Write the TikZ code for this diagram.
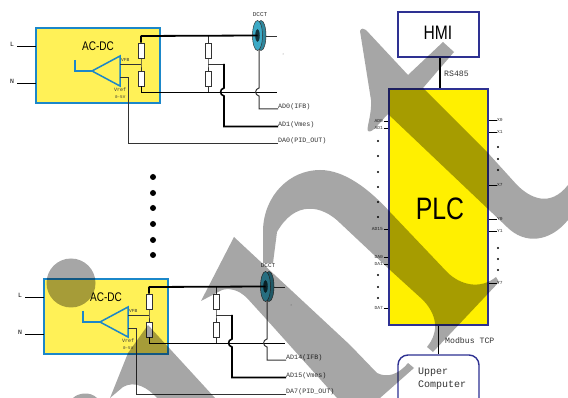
\documentclass[tikz,border=0pt]{standalone}
\usepackage{fontspec}
\setmainfont{Liberation Mono}
\newfontfamily\condf[FakeStretch=0.8]{Liberation Sans}
\usetikzlibrary{shapes.geometric}
\definecolor{acbox}{HTML}{FFF157}
\definecolor{acblue}{HTML}{1B87C9}
\definecolor{navy}{HTML}{2E3192}
\definecolor{plcy}{HTML}{FFF000}
\definecolor{over}{HTML}{A6A6A6}
\definecolor{ringc}{HTML}{3CAAC6}
\definecolor{wiregray}{HTML}{333333}
\tikzset{
  thinw/.style={draw=wiregray,line width=.8pt},
  heavyw/.style={draw=black,line width=1.6pt},
  busw/.style={draw=black,line width=1.8pt},
  res/.style={draw=wiregray,fill=white,line width=.8pt,minimum width=6pt,minimum height=15pt,inner sep=0pt},
  lab/.style={font=\fontsize{6.7}{7}\selectfont,text=wiregray,inner sep=0pt,anchor=west},
  tiny/.style={font=\fontsize{4.6}{5}\selectfont,text=wiregray,inner sep=0pt},
  pin/.style={draw=black,line width=.8pt},
  dotm/.style={circle,fill=black,inner sep=0pt,minimum size=2.2pt},
  bigdot/.style={circle,fill=black,inner sep=0pt,minimum size=6pt},
  specks/.style={circle,fill=gray,inner sep=0pt,minimum size=1pt},
  topbox/.style={draw=navy,line width=1.4pt,fill=white,inner sep=0pt},
  ringshape/.style={ellipse,draw=wiregray,line width=.5pt,minimum width=10pt,minimum height=30pt,inner sep=0pt},
}
\newcommand{\circuitblock}[6]{%
\begin{scope}[shift={(#1,#2)},name prefix=#3-]
  \node[draw=acblue,fill=acbox,line width=1.4pt,minimum width=124pt,minimum height=75pt,inner sep=0pt] (box) at (98,65.5) {};
  \node[font=\condf\fontsize{12.5}{13}\selectfont,inner sep=0pt] (title) at (98,46) {AC-DC};
  \node[font=\fontsize{6.5}{7}\selectfont,inner sep=0pt] (Lt) at (12,44) {L};
  \node[font=\fontsize{6.5}{7}\selectfont,inner sep=0pt] (Nt) at (12,81) {N};
  \coordinate (Le) at (17,46); \coordinate (Li) at (36,46);
  \coordinate (Ne) at (17,83); \coordinate (Ni) at (36,83);
  \draw[thinw,draw=black] (Le) -- (Li);
  \draw[thinw,draw=black] (Ne) -- (Ni);
  % resistors
  \node[res] (r1) at (141,50.5) {};
  \node[res] (r2) at (141,78.5) {};
  \node[res] (r3) at (208,50.5) {};
  \node[res] (r4) at (208,78.5) {};
  \coordinate (j1) at (141,64); \coordinate (j2) at (208,64);
  \coordinate (tl) at (141,36); \coordinate (tm) at (208,36);
  \coordinate (bl) at (141,92); \coordinate (bm) at (208,92); \coordinate (be) at (277,92);
  \coordinate (ringc) at (259,36); \coordinate (te) at (277,36);
  \draw[thinw] (tm) -- (r3) (r3) -- (j2) -- (r4) (r4) -- (bm);
  \draw[thinw] (r1) -- (j1) -- (r2);
  \draw[thinw,draw=black] (r2) -- (bl) -- (be);
  \draw[thinw] (ringc) -- (te);
  % comparator
  \coordinate (ca) at (92,71); \coordinate (cb) at (120,56); \coordinate (cc) at (120,86);
  \draw[draw=acblue,line width=1.5pt,line join=miter] (ca) -- (cb) -- (cc) -- cycle;
  \coordinate (o1) at (75,60); \coordinate (o2) at (75,71);
  \draw[draw=acblue,line width=2pt] (o1) -- (o2) -- (ca);
  \coordinate (vf) at (120,64); \coordinate (vr) at (120,77);
  \draw[thinw] (vf) -- (j1);
  \node[tiny,anchor=west] (vfb) at (121,60) {VFB};
  \node[tiny,anchor=west,font=\fontsize{5}{5}\selectfont] (vref) at (114,90) {Vref};
  \node[tiny,anchor=west,font=\fontsize{4.2}{5}\selectfont] (vrng) at (115,97) {0-5V};
  % output labels
  \node[lab] (l1) at (278,107) {#4};
  \node[lab] (l2) at (278,125) {#5};
  \node[lab] (l3) at (278,141) {#6};
  % wires to labels
  \coordinate (a1) at (224,64); \coordinate (a2) at (224,88); \coordinate (a3) at (224,96); \coordinate (a4) at (224,126.5);
  \draw[thinw] (j2) -- (a1);
  \draw[heavyw] (a1) -- (a2) .. controls (219.5,89) and (219.5,95) .. (a3) -- (a4) -- (l2.west |- a4);
  \coordinate (b1) at (259,50); \coordinate (b2) at (259,88); \coordinate (b3) at (259,96); \coordinate (b4) at (259,109);
  \draw[thinw,line width=1pt] (b1) -- (b2) .. controls (254.5,89) and (254.5,95) .. (b3) -- (b4) -- (l1.west |- b4);
  \coordinate (c1) at (128.5,77); \coordinate (c2) at (128.5,143);
  \draw[thinw] (vr) -- (c1) -- (c2) -- (l3.west |- c2);
  % DCCT
  \node[ringshape,fill=ringc!80!black] (ringb) at (261,35.5) {};
  \node[ringshape,fill=ringc] (ring) at (257.5,35.5) {};
  \node[fill=black!70!ringc,inner sep=0pt,minimum width=4.5pt,minimum height=13pt,ellipse] (hole) at (257.5,35.5) {};
  \draw[busw] (tl) -- (r1.north) (tl) -- (hole.center);
  \node[font=\fontsize{6}{6}\selectfont,text=wiregray,inner sep=0pt] (dcct) at (260,15) {DCCT};
\end{scope}}
\begin{document}
\begin{tikzpicture}[x=1pt,y=-1pt]
\useasboundingbox (0,0) rectangle (568,398);
\fill[white] (0,0) rectangle (568,398);
\circuitblock{0}{0}{top}{AD0(IFB)}{AD1(Vmes)}{DA0(PID\_OUT)}
\circuitblock{8}{251}{bot}{AD14(IFB)}{AD15(Vmes)}{DA7(PID\_OUT)}
\node[specks] (s1) at (283,54) {};
\node[specks] (s2) at (291,305) {};
\foreach \i/\y in {1/177,2/193,3/208,4/224,5/240,6/255}
  \node[bigdot] (bd\i) at (153,\y) {};
% PLC
\node[draw=navy,fill=plcy,line width=1.4pt,minimum width=99pt,minimum height=236pt,inner sep=0pt] (plcbox) at (438.5,207) {};
\node[font=\condf\fontsize{31}{32}\selectfont,inner sep=0pt] (plct) at (440,209) {PLC};
\node[topbox,minimum width=81pt,minimum height=45pt] (hmi) at (438.5,34.5) {};
\node[font=\condf\fontsize{19.5}{20}\selectfont,inner sep=0pt] (hmit) at (438,33) {HMI};
\node[topbox,rounded corners=10pt,minimum width=81pt,minimum height=53pt] (upper) at (438.5,381.5) {};
\node[font=\fontsize{10}{13}\selectfont,inner sep=0pt,align=left,anchor=west,text=wiregray] (uppert) at (418,378.5) {Upper\\Computer};
\draw[black,line width=1.5pt] (hmi.south -| plct.north) -- (plcbox.north -| plct.north);
\draw[black,line width=1.5pt] (plcbox.south -| hmi.south) -- (upper.north);
\node[font=\fontsize{8.2}{9}\selectfont,inner sep=0pt,anchor=west,text=wiregray] (rs) at (444,73.5) {RS485};
\node[font=\fontsize{8.2}{9}\selectfont,inner sep=0pt,anchor=west,text=wiregray] (mb) at (445,341) {Modbus TCP};
% PLC left pins
\foreach \n/\y/\t in {a/121/AD0,b/128/AD1,c/229/AD15,d/257/DA0,e/264/DA1,f/308/DA7}{
  \node[tiny,anchor=east] (lpin\n) at (383,\y) {\t};
  \draw[pin] (lpin\n.east) ++(.5,0) -- (plcbox.west |- lpin\n.east);
}
\foreach \i/\y in {1/141,2/156,3/172,4/187,5/202,6/217,7/275,8/287,9/298}
  \node[dotm] (ld\i) at (378,\y) {};
% PLC right pins
\foreach \n/\y/\t in {a/120/X0,b/132/X1,c/185/X7,d/219/Y0,e/231/Y1,f/283/Y7}{
  \node[tiny,anchor=west] (rpin\n) at (497,\y) {\t};
  \draw[pin] (rpin\n.west) -- (plcbox.east |- rpin\n.west);
}
\foreach \i/\y in {1/147,2/159,3/170,4/248,5/259,6/270}
  \node[dotm] (rd\i) at (498,\y) {};
% grey overlay scribble
\fill[over,blend mode=multiply]
 (360,31) .. controls (361,28) and (364,28) .. (366,30) -- (408,75) -- (443,42) -- (454,52) -- (423,88) -- (488,153) -- (517,185)
   .. controls (530,198) and (550,208) .. (568,185) -- (568,220)
   .. controls (550,242) and (525,245) .. (507,227) -- (388,114)
   .. controls (380,122) and (372,134) .. (368,131) .. controls (366,128) and (372,115) .. (371,100) -- cycle
 (263,263) -- (263,230) .. controls (264,195) and (290,170) .. (320,170) .. controls (345,170) and (370,190) .. (390,212)
   -- (447,272) .. controls (460,285) and (480,290) .. (496,277) -- (499,282) -- (433,352) -- (427,347)
   .. controls (437,335) and (440,318) .. (423,300) -- (390,270) -- (340,223)
   .. controls (322,205) and (295,200) .. (277,232) -- (273,263) -- cycle
 (234,237) -- (350,345) -- (377,373) .. controls (387,378) and (398,375) .. (408,363) -- (414,368) -- (380,398) -- (337,398)
   -- (267,320) -- (247,298) .. controls (238,289) and (228,288) .. (222,290) -- (201,301) -- cycle
 (148,325) -- (215,398) -- (157,398) .. controls (148,388) and (135,380) .. (123,387) -- (110,398) -- (128,353) -- cycle
 (73,398) .. controls (78,393) and (90,391) .. (97,398) -- cycle
 (71,283) circle[radius=24.5];
\end{tikzpicture}
\end{document}
